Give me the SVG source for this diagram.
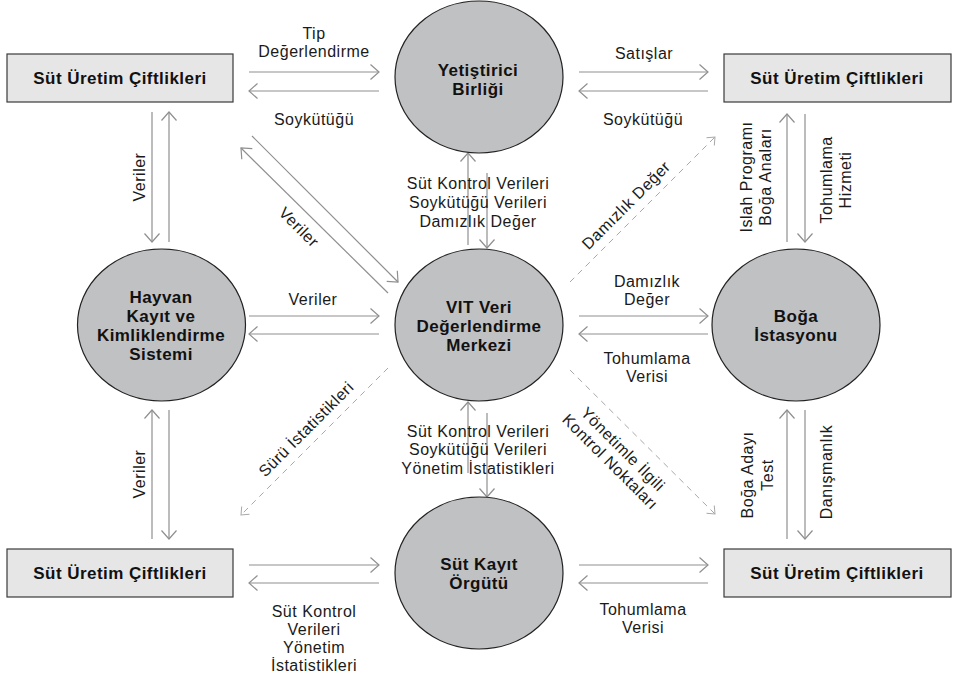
<svg xmlns="http://www.w3.org/2000/svg" width="953" height="679" viewBox="0 0 953 679">
<defs>
<style>
.box{fill:#e6e6e7;stroke:#3a3a3a;stroke-width:1.2}
.ell{fill:#c0c1c3;stroke:#222;stroke-width:1.2}
.nt{font-family:"Liberation Sans",Arial,sans-serif;font-weight:bold;font-size:17px;letter-spacing:0.45px;fill:#111;text-anchor:middle}
.lb{font-family:"Liberation Sans",Arial,sans-serif;font-size:16px;letter-spacing:0.5px;fill:#1a1a1a;text-anchor:middle}
.ln{fill:none;stroke:#8f8f8f;stroke-width:1.2;marker-end:url(#ah)}
.dl{fill:none;stroke:#a8a8a8;stroke-width:1;stroke-dasharray:6 5;marker-end:url(#ahd)}
</style>
<marker id="ah" markerWidth="20" markerHeight="20" refX="10" refY="10" orient="auto" markerUnits="userSpaceOnUse"><path d="M1.5,2.5 L10,10 L1.5,17.5" fill="none" stroke="#8f8f8f" stroke-width="1.2"/></marker>
<marker id="ahd" markerWidth="20" markerHeight="20" refX="10" refY="10" orient="auto" markerUnits="userSpaceOnUse"><path d="M3.5,4.5 L10,10 L3.5,15.5" fill="none" stroke="#a8a8a8" stroke-width="1"/></marker>
</defs>
<rect width="953" height="679" fill="#fff"/>

<g id="connectors">
<path class="ln" d="M249,72 H379"/>
<path class="ln" d="M379,91 H249"/>
<path class="ln" d="M579,72 H708"/>
<path class="ln" d="M708,91 H579"/>
<path class="ln" d="M249,316 H379"/>
<path class="ln" d="M379,334 H249"/>
<path class="ln" d="M579,316 H708"/>
<path class="ln" d="M708,334 H579"/>
<path class="ln" d="M249,565 H379"/>
<path class="ln" d="M379,583 H249"/>
<path class="ln" d="M579,565 H708"/>
<path class="ln" d="M708,583 H579"/>
<path class="ln" d="M152,112 V242"/>
<path class="ln" d="M169,242 V112"/>
<path class="ln" d="M152,539 V410"/>
<path class="ln" d="M169,410 V539"/>
<path class="ln" d="M787,242 V114"/>
<path class="ln" d="M805,114 V242"/>
<path class="ln" d="M787,539 V410"/>
<path class="ln" d="M805,410 V539"/>
<path class="ln" d="M468,245 V153"/>
<path class="ln" d="M487,173 V248"/>
<path class="ln" d="M468,473 V402"/>
<path class="ln" d="M487,413 V497"/>
<path class="ln" d="M252,136 L398,282"/>
<path class="ln" d="M388,293 L241,148"/>
<path class="dl" d="M570,282 L715,137"/>
<path class="dl" d="M570,370 L715,514"/>
<path class="dl" d="M388,368 L241,515"/>

<g id="connector-labels">
<text class="lb"><tspan x="314" y="39">Tip</tspan><tspan x="314" y="57">Değerlendirme</tspan></text>
<text class="lb" x="314" y="125">Soykütüğü</text>
<text class="lb" x="644" y="59">Satışlar</text>
<text class="lb" x="643" y="125">Soykütüğü</text>
<text class="lb" x="313" y="305">Veriler</text>
<text class="lb"><tspan x="647" y="287">Damızlık</tspan><tspan x="647" y="305">Değer</tspan></text>
<text class="lb"><tspan x="647" y="364">Tohumlama</tspan><tspan x="647" y="382">Verisi</tspan></text>
<text class="lb"><tspan x="314" y="617">Süt Kontrol</tspan><tspan x="314" y="635">Verileri</tspan><tspan x="314" y="653">Yönetim</tspan><tspan x="314" y="671">İstatistikleri</tspan></text>
<text class="lb"><tspan x="643" y="615">Tohumlama</tspan><tspan x="643" y="633">Verisi</tspan></text>
<text class="lb"><tspan x="478" y="189">Süt Kontrol Verileri</tspan><tspan x="478" y="208">Soykütüğü Verileri</tspan><tspan x="478" y="227">Damızlık Değer</tspan></text>
<text class="lb"><tspan x="478" y="437">Süt Kontrol Verileri</tspan><tspan x="478" y="455">Soykütüğü Verileri</tspan><tspan x="478" y="474">Yönetim İstatistikleri</tspan></text>
<text class="lb" transform="translate(145,177) rotate(-90)">Veriler</text>
<text class="lb" transform="translate(145,474) rotate(-90)">Veriler</text>
<text class="lb" transform="translate(752,177) rotate(-90)"><tspan x="0" y="0">Islah Programı</tspan><tspan x="0" y="19">Boğa Anaları</tspan></text>
<text class="lb" transform="translate(832,180) rotate(-90)"><tspan x="0" y="0">Tohumlama</tspan><tspan x="0" y="19">Hizmeti</tspan></text>
<text class="lb" transform="translate(753,475) rotate(-90)"><tspan x="0" y="0">Boğa Adayı</tspan><tspan x="0" y="20">Test</tspan></text>
<text class="lb" transform="translate(832,472) rotate(-90)">Danışmanlık</text>
<text class="lb" transform="translate(295,231) rotate(45)">Veriler</text>
<text class="lb" transform="translate(630,209) rotate(-45)">Damızlık Değer</text>
<text class="lb" transform="translate(310,433) rotate(-45)">Sürü İstatistikleri</text>
<text class="lb" transform="translate(619,453) rotate(45)"><tspan x="0" y="0">Yönetimle İlgili</tspan><tspan x="0" y="18">Kontrol Noktaları</tspan></text>
</g>
</g>

<g id="farm-top-left"><rect class="box" x="7" y="54" width="226" height="48"/><text class="nt" x="120" y="84">Süt Üretim Çiftlikleri</text></g>
<g id="farm-top-right"><rect class="box" x="724" y="54" width="227" height="48"/><text class="nt" x="837" y="84">Süt Üretim Çiftlikleri</text></g>
<g id="farm-bottom-left"><rect class="box" x="7" y="549" width="226" height="48"/><text class="nt" x="120" y="579">Süt Üretim Çiftlikleri</text></g>
<g id="farm-bottom-right"><rect class="box" x="724" y="549" width="227" height="48"/><text class="nt" x="837" y="579">Süt Üretim Çiftlikleri</text></g>
<g id="yetistirici"><ellipse class="ell" cx="479" cy="77" rx="84" ry="76"/><text class="nt"><tspan x="478" y="76">Yetiştirici</tspan><tspan x="478" y="95">Birliği</tspan></text></g>
<g id="vit"><ellipse class="ell" cx="479" cy="325" rx="84" ry="76"/><text class="nt"><tspan x="479" y="313">VIT Veri</tspan><tspan x="479" y="332">Değerlendirme</tspan><tspan x="479" y="351">Merkezi</tspan></text></g>
<g id="hayvan"><ellipse class="ell" cx="161.5" cy="325" rx="84" ry="76"/><text class="nt"><tspan x="161" y="303">Hayvan</tspan><tspan x="161" y="322">Kayıt ve</tspan><tspan x="161" y="341">Kimliklendirme</tspan><tspan x="161" y="360">Sistemi</tspan></text></g>
<g id="boga"><ellipse class="ell" cx="796" cy="325" rx="84" ry="76"/><text class="nt"><tspan x="796" y="322">Boğa</tspan><tspan x="796" y="341">İstasyonu</tspan></text></g>
<g id="sut-kayit"><ellipse class="ell" cx="479" cy="573" rx="84" ry="76"/><text class="nt"><tspan x="479" y="570">Süt Kayıt</tspan><tspan x="479" y="589">Örgütü</tspan></text></g>
</svg>
